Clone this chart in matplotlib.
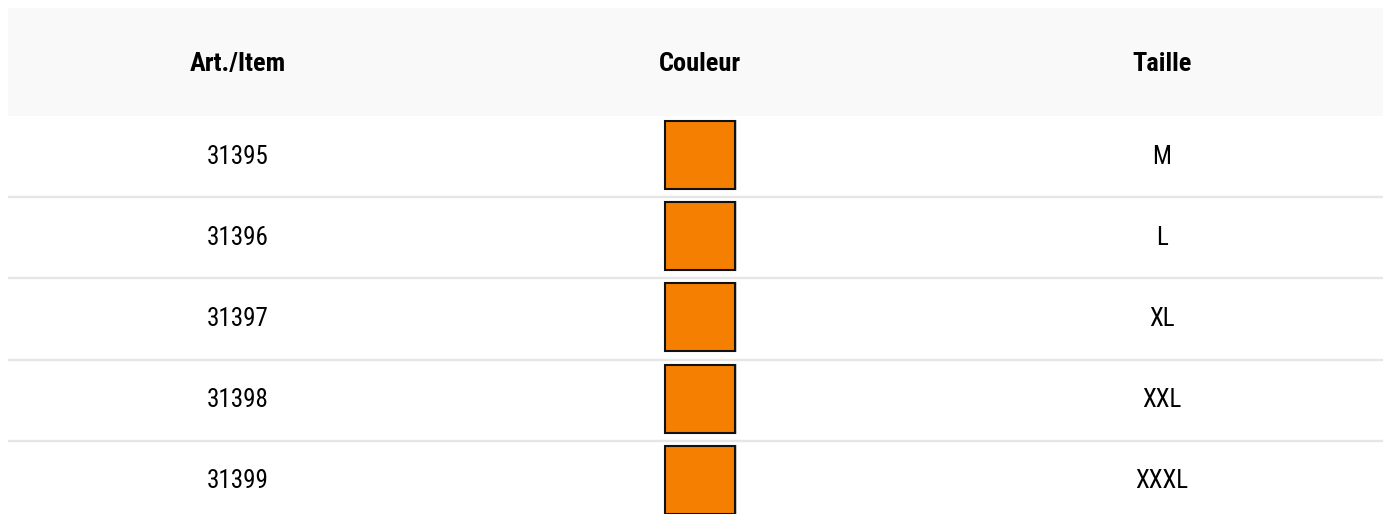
import matplotlib
matplotlib.use("Agg")
import matplotlib.pyplot as plt
from matplotlib.patches import Rectangle

headers = ["Art./Item", "Couleur", "Taille"]
items = ["31395", "31396", "31397", "31398", "31399"]
colours = ["#F57F00", "#F57F00", "#F57F00", "#F57F00", "#F57F00"]
sizes = ["M", "L", "XL", "XXL", "XXXL"]

W, H = 1383, 514
left = 8
top = 8
head_h = 108
row_h = 81.2
col_x = [238, 700, 1162]
sw_w, sw_h = 70, 68

head_font = ["Roboto Condensed", "Roboto", "DejaVu Sans"]
body_font = ["Roboto Condensed", "Roboto", "DejaVu Sans"]

fig = plt.figure(figsize=(W / 100, H / 100), dpi=100)
ax = fig.add_axes([0, 0, 1, 1])
ax.set_xlim(0, W)
ax.set_ylim(H, 0)
ax.axis("off")

# header band
ax.add_patch(Rectangle((left, top), W - left, head_h, facecolor="#f9f9f9", edgecolor="none"))
for x, h in zip(col_x, headers):
    ax.text(x, top + head_h / 2 + 2, h, ha="center", va="center", fontsize=19,
            fontweight="black", family=head_font, stretch="condensed")

y0 = top + head_h
for i in range(len(items)):
    ry = y0 + i * row_h
    cy = ry + row_h / 2
    if i > 0:
        ax.plot([left, W], [ry, ry], color="#e6e6e6", lw=1.7, solid_capstyle="butt")
    ax.text(col_x[0], cy, items[i], ha="center", va="center", fontsize=18,
            family=body_font, stretch="condensed")
    ax.text(col_x[2], cy, sizes[i], ha="center", va="center", fontsize=18,
            family=body_font, stretch="condensed")
    # swatch with faint shadow
    ax.add_patch(Rectangle((col_x[1] - sw_w / 2 + 1, ry + 5), sw_w, sw_h,
                           facecolor="none", edgecolor="#cccccc", lw=1.4))
    ax.add_patch(Rectangle((col_x[1] - sw_w / 2, ry + 5), sw_w, sw_h,
                           facecolor=colours[i], edgecolor="#111111", lw=1.5))

fig.savefig("out.png", dpi=100)
